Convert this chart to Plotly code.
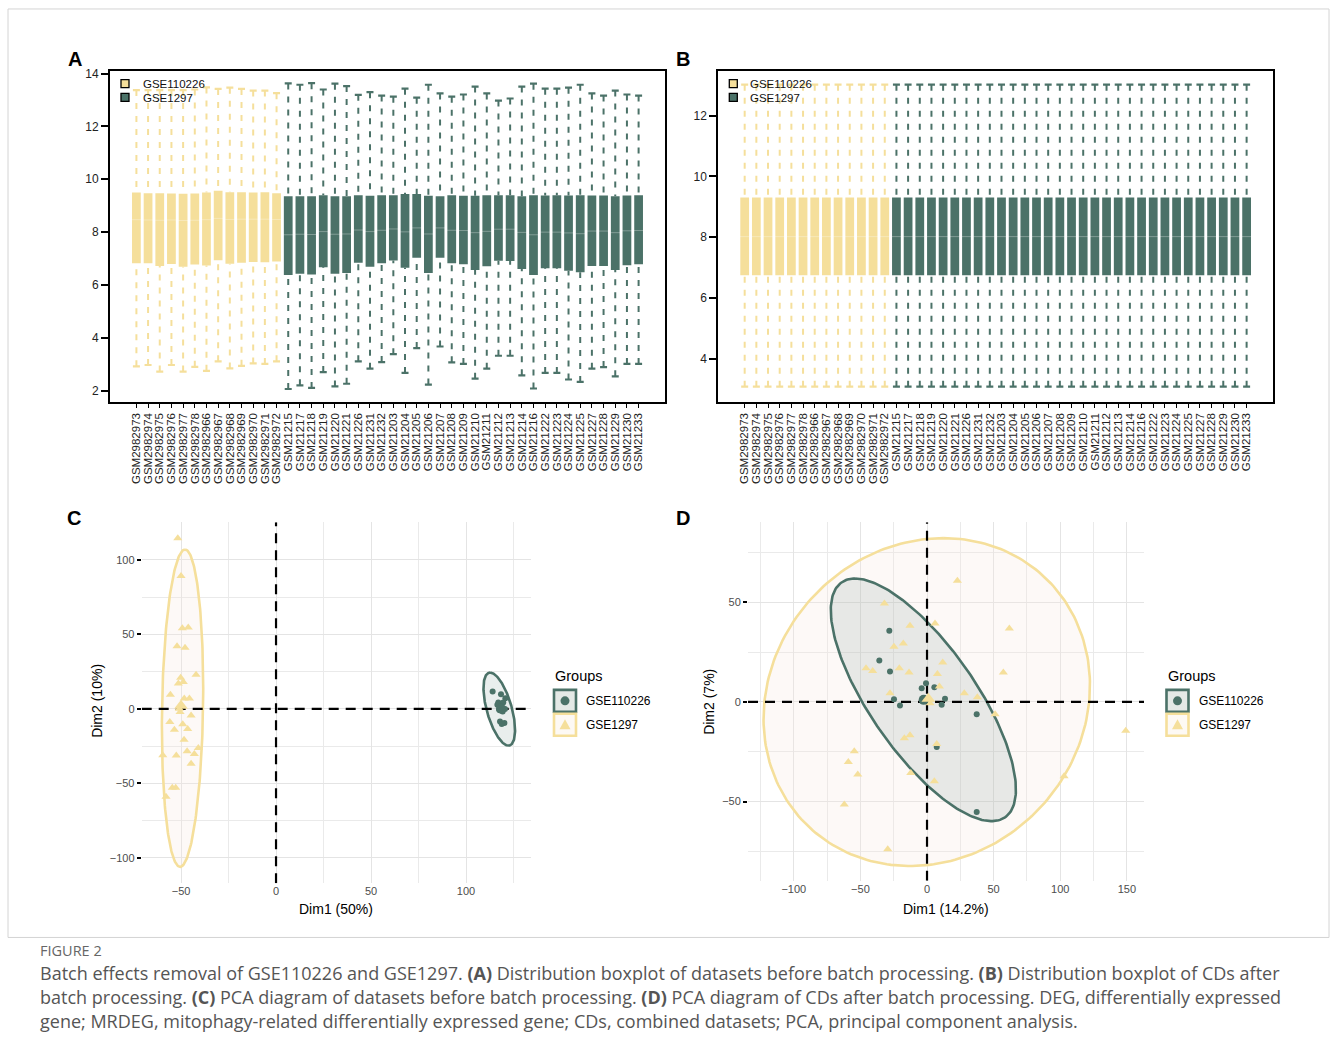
import numpy as np
import plotly.graph_objects as go

W, H = 1330, 1057


def px(x): return x / W
def pyc(y): return 1 - y / H                                   # caption area (no correction)
def py(y): return 1 - (y - (3.0 if y < 480 else 1.5)) / H      # panel area (small vertical correction)


YELLOW = "#F5DF9B"
GREEN = "#4B7268"
FONT = "Liberation Sans"

# ---------------- data ----------------
samples_110226 = ["GSM2982973", "GSM2982974", "GSM2982975", "GSM2982976", "GSM2982977",
                  "GSM2982978", "GSM2982966", "GSM2982967", "GSM2982968", "GSM2982969",
                  "GSM2982970", "GSM2982971", "GSM2982972"]
samples_1297 = ["GSM21215", "GSM21217", "GSM21218", "GSM21219", "GSM21220", "GSM21221",
                "GSM21226", "GSM21231", "GSM21232", "GSM21203", "GSM21204", "GSM21205",
                "GSM21206", "GSM21207", "GSM21208", "GSM21209", "GSM21210", "GSM21211",
                "GSM21212", "GSM21213", "GSM21214", "GSM21216", "GSM21222", "GSM21223",
                "GSM21224", "GSM21225", "GSM21227", "GSM21228", "GSM21229", "GSM21230",
                "GSM21233"]
samples = samples_110226 + samples_1297

# Panel A (before batch processing)
a_q1 = [6.82, 6.82, 6.72, 6.79, 6.69, 6.77, 6.74, 6.94, 6.80, 6.84, 6.87, 6.86, 6.89,
        6.38, 6.42, 6.40, 6.67, 6.42, 6.45, 6.84, 6.69, 6.82, 6.93, 6.65, 7.03, 6.45,
        7.03, 6.82, 6.78, 6.57, 6.71, 6.92, 6.91, 6.60, 6.38, 6.63, 6.63, 6.54, 6.48,
        6.72, 6.72, 6.57, 6.75, 6.78]
a_med = [8.47, 8.46, 8.45, 8.46, 8.44, 8.45, 8.47, 8.52, 8.48, 8.49, 8.49, 8.49, 8.48,
         7.90, 7.92, 7.91, 8.02, 7.92, 7.93, 8.08, 8.02, 8.07, 8.12, 8.01, 8.16, 7.93,
         8.16, 8.07, 8.06, 7.98, 8.03, 8.11, 8.11, 7.99, 7.90, 8.00, 8.00, 7.97, 7.94,
         8.04, 8.04, 7.98, 8.05, 8.06]
a_q3 = [9.50, 9.47, 9.47, 9.46, 9.45, 9.46, 9.50, 9.57, 9.51, 9.51, 9.50, 9.51, 9.47,
        9.36, 9.36, 9.36, 9.40, 9.36, 9.36, 9.40, 9.38, 9.40, 9.40, 9.44, 9.44, 9.38,
        9.36, 9.40, 9.38, 9.38, 9.40, 9.40, 9.40, 9.36, 9.40, 9.39, 9.40, 9.39, 9.40,
        9.39, 9.39, 9.36, 9.39, 9.40]
a_lo = [2.92, 2.97, 2.72, 2.97, 2.72, 2.90, 2.75, 3.11, 2.84, 2.94, 3.03, 3.01, 3.11,
        2.06, 2.20, 2.10, 2.70, 2.16, 2.26, 3.11, 2.83, 3.08, 3.38, 2.67, 3.61, 2.23,
        3.67, 3.07, 3.01, 2.45, 2.83, 3.32, 3.32, 2.58, 2.08, 2.67, 2.67, 2.42, 2.33,
        2.83, 2.89, 2.54, 3.01, 3.01]
a_hi = [13.38, 13.38, 13.38, 13.38, 13.38, 13.40, 13.48, 13.42, 13.47, 13.42, 13.36, 13.36, 13.26,
        13.63, 13.58, 13.64, 13.40, 13.62, 13.53, 13.20, 13.30, 13.17, 13.13, 13.43, 13.09, 13.58,
        13.25, 13.13, 13.21, 13.51, 13.25, 12.98, 13.06, 13.51, 13.62, 13.43, 13.43, 13.47, 13.58,
        13.25, 13.17, 13.36, 13.21, 13.17]

# Panel B (after batch processing: identical distributions for every sample)
B_Q1, B_MED, B_Q3, B_LO, B_HI = 6.75, 8.02, 9.31, 3.08, 13.02
b_q1 = [B_Q1] * len(samples)
b_med = [B_MED] * len(samples)
b_q3 = [B_Q3] * len(samples)
b_lo = [B_LO] * len(samples)
b_hi = [B_HI] * len(samples)

# Panel C (PCA before)
c_gse1297_x = [-51.7, -50.0, -49.3, -46.2, -52.1, -47.9, -42.1, -50.2, -51.4, -48.8, -55.6,
               -48.3, -45.6, -50.0, -50.9, -50.5, -44.7, -55.9, -49.1, -53.5, -46.5, -48.4,
               -40.9, -46.8, -43.0, -59.6, -52.5, -44.7, -54.6, -52.8, -57.9]
c_gse1297_y = [114.5, 89.1, 54.1, 54.6, 41.9, 41.0, 22.9, 20.9, 16.9, 18.0, 9.4, 6.9, 6.9,
               2.7, 0.0, -2.2, -4.5, -8.9, -10.3, -14.0, -13.6, -20.7, -26.3, -28.5, -30.3,
               -31.2, -31.4, -36.8, -53.0, -53.0, -59.0]
c_gse110226_x = [114.0, 118.4, 117.0, 119.6, 118.4, 120.5, 117.5, 119.3, 117.9, 120.2, 118.8, 116.5, 120.7]
c_gse110226_y = [11.6, 9.8, 4.2, 4.2, 1.6, -0.2, -0.7, -1.8, -8.5, -9.6, -10.2, 2.7, 7.1]
c_mean_1297 = [-50.0, 2.0]
c_mean_110226 = [118.4, 0.0]
# ellipse: centre, conjugate half-axis vectors U and V (data units)
c_ell_1297 = dict(c=[-49.2, 0.45], u=[1.3, 106.5], v=[10.8, 0.0])
c_ell_110226 = dict(c=[117.5, -0.2], u=[-4.8, 24.5], v=[6.8, 0.0])

# Panel D (PCA after)
d_gse1297_x = [22.8, -32.0, 6.0, -12.8, 61.8, -24.8, -17.8, -45.8, -40.8, -20.8, -13.5, 11.8,
               7.8, 9.3, 57.3, -27.8, 28.0, 37.8, 1.0, 2.3, 51.1, -17.0, -12.8, 7.3, -54.6,
               -59.1, -52.0, -12.2, 5.5, 102.9, 149.2, -62.1, -29.5]
d_gse1297_y = [60.7, 49.3, 39.3, 38.2, 36.8, 27.7, 29.3, 16.8, 15.5, 16.8, 14.7, 19.8, 14.0,
               7.7, 14.7, 4.3, 4.3, 2.3, 1.8, -0.7, -6.2, -18.2, -16.8, -21.2, -24.8, -30.2,
               -36.5, -35.7, -39.8, -37.3, -14.5, -51.5, -74.0]
d_gse110226_x = [-28.3, -35.8, -27.8, -0.75, -4.0, 5.5, -24.8, -20.3, -3.2, -2.0, 13.5, 11.0, 37.3, 7.3, 37.3]
d_gse110226_y = [35.7, 20.7, 15.2, 9.3, 6.8, 7.3, 1.3, -1.8, 1.0, 0.7, 1.5, -1.5, -6.2, -22.7, -55.2]
d_mean_1297 = [1.0, 1.5]
d_mean_110226 = [-2.5, 1.0]
d_ell_1297 = dict(c=[-0.2, -0.1], u=[12.5, 82.25], v=[121.9, 0.0])
d_ell_110226 = dict(c=[-2.75, 1.0], u=[-51.3, 60.85], v=[46.9, 0.0])

# ---------------- figure ----------------
fig = go.Figure()
idx = list(range(len(samples)))
n1 = len(samples_110226)


def add_boxes(q1, med, q3, lo, hi, xa, ya):
    groups = [(idx[:n1], YELLOW), (idx[n1:], GREEN)]
    for ids, col in groups:
        fig.add_trace(go.Bar(x=ids, y=[q3[i] - q1[i] for i in ids], base=[q1[i] for i in ids],
                             width=0.75, marker=dict(color=col, line=dict(width=0)),
                             xaxis=xa, yaxis=ya, showlegend=False, hoverinfo="skip"))
        wx, wy = [], []
        for i in ids:
            wx += [i, i, None, i, i, None]
            wy += [hi[i], q3[i], None, lo[i], q1[i], None]
        fig.add_trace(go.Scatter(x=wx, y=wy, mode="lines",
                                 line=dict(color=col, width=2, dash="6px,7px"),
                                 xaxis=xa, yaxis=ya, showlegend=False, hoverinfo="skip"))
        fig.add_trace(go.Scatter(x=ids + ids, y=[hi[i] for i in ids] + [lo[i] for i in ids],
                                 mode="markers",
                                 marker=dict(symbol="line-ew", size=5, line=dict(color=col, width=2.2)),
                                 xaxis=xa, yaxis=ya, showlegend=False, hoverinfo="skip"))
        fig.add_trace(go.Scatter(x=ids, y=[med[i] for i in ids], mode="markers",
                                 marker=dict(symbol="line-ew", size=8.5,
                                             line=dict(color="rgba(255,255,255,0.3)", width=1)),
                                 xaxis=xa, yaxis=ya, showlegend=False, hoverinfo="skip"))


add_boxes(a_q1, a_med, a_q3, a_lo, a_hi, "x", "y")
add_boxes(b_q1, b_med, b_q3, b_lo, b_hi, "x2", "y2")


def ellipse(e, n=240):
    t = np.linspace(0, 2 * np.pi, n)
    x = e["c"][0] + e["u"][0] * np.cos(t) + e["v"][0] * np.sin(t)
    y = e["c"][1] + e["u"][1] * np.cos(t) + e["v"][1] * np.sin(t)
    return x, y


def add_pca(ell_y, ell_g, yx, yy, gx, gy, my, mg, xa, ya, xr, yr):
    ex, ey = ellipse(ell_y)
    fig.add_trace(go.Scatter(x=ex, y=ey, mode="lines", fill="toself",
                             fillcolor="rgba(248,232,222,0.25)",
                             line=dict(color=YELLOW, width=2.6),
                             xaxis=xa, yaxis=ya, showlegend=False, hoverinfo="skip"))
    ex, ey = ellipse(ell_g)
    fig.add_trace(go.Scatter(x=ex, y=ey, mode="lines", fill="toself",
                             fillcolor="rgba(75,114,104,0.12)",
                             line=dict(color=GREEN, width=2.6),
                             xaxis=xa, yaxis=ya, showlegend=False, hoverinfo="skip"))
    fig.add_trace(go.Scatter(x=[0, 0, None, xr[0], xr[1]], y=[yr[0], yr[1], None, 0, 0],
                             mode="lines", line=dict(color="black", width=2.2, dash="10px,7px"),
                             xaxis=xa, yaxis=ya, showlegend=False, hoverinfo="skip"))
    fig.add_trace(go.Scatter(x=gx, y=gy, mode="markers",
                             marker=dict(symbol="circle", size=6, color=GREEN),
                             xaxis=xa, yaxis=ya, showlegend=False, hoverinfo="skip"))
    fig.add_trace(go.Scatter(x=yx, y=yy, mode="markers",
                             marker=dict(symbol="triangle-up", size=8, color=YELLOW),
                             xaxis=xa, yaxis=ya, showlegend=False, hoverinfo="skip"))
    fig.add_trace(go.Scatter(x=[mg[0]], y=[mg[1]], mode="markers",
                             marker=dict(symbol="circle", size=10, color=GREEN),
                             xaxis=xa, yaxis=ya, showlegend=False, hoverinfo="skip"))
    fig.add_trace(go.Scatter(x=[my[0]], y=[my[1]], mode="markers",
                             marker=dict(symbol="triangle-up", size=12, color=YELLOW),
                             xaxis=xa, yaxis=ya, showlegend=False, hoverinfo="skip"))


C_XR, C_YR = [-70.7, 134.2], [-117.0, 125.2]
D_XR, D_YR = [-134.4, 162.9], [-89.8, 90.1]
add_pca(c_ell_1297, c_ell_110226, c_gse1297_x, c_gse1297_y, c_gse110226_x, c_gse110226_y,
        c_mean_1297, c_mean_110226, "x3", "y3", C_XR, C_YR)
add_pca(d_ell_1297, d_ell_110226, d_gse1297_x, d_gse1297_y, d_gse110226_x, d_gse110226_y,
        d_mean_1297, d_mean_110226, "x4", "y4", D_XR, D_YR)

# ---------------- axes ----------------
box_x = dict(range=[-2.26, 45.26], tickvals=idx, ticktext=samples, tickangle=-90,
             tickfont=dict(size=11.5, color="#222", family=FONT), ticks="outside", ticklen=4,
             tickwidth=1.3, tickcolor="black", showline=True, linecolor="black", linewidth=2,
             mirror=True, showgrid=False, zeroline=False, fixedrange=True)
box_y = dict(ticks="outside", ticklen=7, tickwidth=1.5, tickcolor="black",
             tickfont=dict(size=12, color="#222", family=FONT), showline=True, linecolor="black",
             linewidth=2, mirror=True, showgrid=False, zeroline=False)
pca_common = dict(showline=False, zeroline=False, showgrid=True, gridcolor="#E4E4E4", gridwidth=1.4,
                  tick0=0, dtick=50,
                  minor=dict(showgrid=True, gridcolor="#EAEAEA", gridwidth=1.0, dtick=25, tick0=0),
                  tickfont=dict(size=11, color="#4D4D4D", family=FONT))

fig.update_layout(
    width=W, height=H, margin=dict(l=0, r=0, t=0, b=0),
    paper_bgcolor="white", plot_bgcolor="white", barmode="overlay", showlegend=False,
    font=dict(family=FONT, color="black"),
    xaxis=dict(domain=[px(110), px(665)], anchor="y", **box_x),
    yaxis=dict(domain=[py(403), py(70)], anchor="x", range=[1.55, 14.11],
               tickvals=[2, 4, 6, 8, 10, 12, 14], **box_y),
    xaxis2=dict(domain=[px(718.3), px(1273)], anchor="y2", **box_x),
    yaxis2=dict(domain=[py(403), py(70)], anchor="x2", range=[2.56, 13.48],
                tickvals=[4, 6, 8, 10, 12], **box_y),
    xaxis3=dict(domain=[px(141.7), px(531)], anchor="y3", range=C_XR, ticks="", **pca_common),
    yaxis3=dict(domain=[py(884), py(521.7)], anchor="x3", range=C_YR, ticks="outside", ticklen=4,
                tickwidth=2, tickcolor="black", **pca_common),
    xaxis4=dict(domain=[px(748), px(1144)], anchor="y4", range=D_XR, ticks="", **pca_common),
    yaxis4=dict(domain=[py(881.7), py(521.7)], anchor="x4", range=D_YR, ticks="outside", ticklen=4,
                tickwidth=2, tickcolor="black", **pca_common),
)

shapes = []
annotations = []

# outer frame
shapes.append(dict(type="rect", xref="paper", yref="paper", x0=px(8), x1=px(1329), y0=pyc(937), y1=py(8),
                   line=dict(color="#D4D4D4", width=1), layer="below"))


def ann(x, y, text, size, color="black", xanchor="left", yanchor="middle", angle=0, family=FONT, yf=py):
    annotations.append(dict(x=px(x), y=yf(y), xref="paper", yref="paper", text=text, showarrow=False,
                            xanchor=xanchor, yanchor=yanchor, textangle=angle,
                            font=dict(size=size, color=color, family=family)))


# panel letters
for lab, x, y in [("A", 75, 58), ("B", 683, 58), ("C", 74, 517), ("D", 683, 517)]:
    ann(x, y, "<b>%s</b>" % lab, 20, xanchor="center")

# box legends
for (sx, tx) in [(121, 140.5), (729.3, 748.3)]:
    for k, (lab, col) in enumerate([("GSE110226", YELLOW), ("GSE1297", GREEN)]):
        y0 = 79.0 + k * 13.8
        shapes.append(dict(type="rect", xref="paper", yref="paper", x0=px(sx), x1=px(sx + 8),
                           y0=py(y0 + 8), y1=py(y0), fillcolor=col, line=dict(color="black", width=1.3)))
        ann(tx, y0 + 4.3, lab, 11.5, color="#111")

# PCA legends
for lx in [553, 1165.5]:
    ann(lx, 676, "Groups", 14.5)
    shapes.append(dict(type="rect", xref="paper", yref="paper", x0=px(lx + 1), x1=px(lx + 23),
                       y0=py(712), y1=py(690), fillcolor="#E4E9E6", line=dict(color=GREEN, width=2.6)))
    shapes.append(dict(type="circle", xref="paper", yref="paper", x0=px(lx + 7.5), x1=px(lx + 16.5),
                       y0=py(705.5), y1=py(696.5), fillcolor=GREEN, line=dict(width=0)))
    shapes.append(dict(type="rect", xref="paper", yref="paper", x0=px(lx + 1), x1=px(lx + 23),
                       y0=py(736), y1=py(714), fillcolor="#FDF9F4", line=dict(color=YELLOW, width=2.6)))
    cx = lx + 12
    shapes.append(dict(type="path", xref="paper", yref="paper",
                       path="M %f,%f L %f,%f L %f,%f Z" % (px(cx), py(719.5), px(cx - 5.5), py(729.5),
                                                            px(cx + 5.5), py(729.5)),
                       fillcolor=YELLOW, line=dict(width=0)))
    ann(lx + 31, 701.5, "GSE110226", 12)
    ann(lx + 31, 725, "GSE1297", 12)

# PCA axis titles
ann(336, 910, "Dim1 (50%)", 14, xanchor="center")
ann(97, 701, "Dim2 (10%)", 14, xanchor="center", angle=-90)
ann(946, 910, "Dim1 (14.2%)", 14, xanchor="center")
ann(709, 702, "Dim2 (7%)", 14, xanchor="center", angle=-90)

# caption
CAP = "Open Sans"
ann(38, 950, "FIGURE 2", 14.5, color="#666", family=CAP, yf=pyc)
cap_lines = [
    "Batch effects removal of GSE110226 and GSE1297. <b>(A)</b> Distribution boxplot of datasets before batch processing. <b>(B)</b> Distribution boxplot of CDs after",
    "batch processing. <b>(C)</b> PCA diagram of datasets before batch processing. <b>(D)</b> PCA diagram of CDs after batch processing. DEG, differentially expressed",
    "gene; MRDEG, mitophagy-related differentially expressed gene; CDs, combined datasets; PCA, principal component analysis.",
]
for k, line in enumerate(cap_lines):
    ann(38, 973 + 24 * k, line, 18, color="#555", family=CAP, yf=pyc)

fig.update_layout(shapes=shapes, annotations=annotations)

fig.write_html("out.html", config={"displayModeBar": False},
               post_script="document.body.style.margin='0';document.body.style.overflow='hidden';")
